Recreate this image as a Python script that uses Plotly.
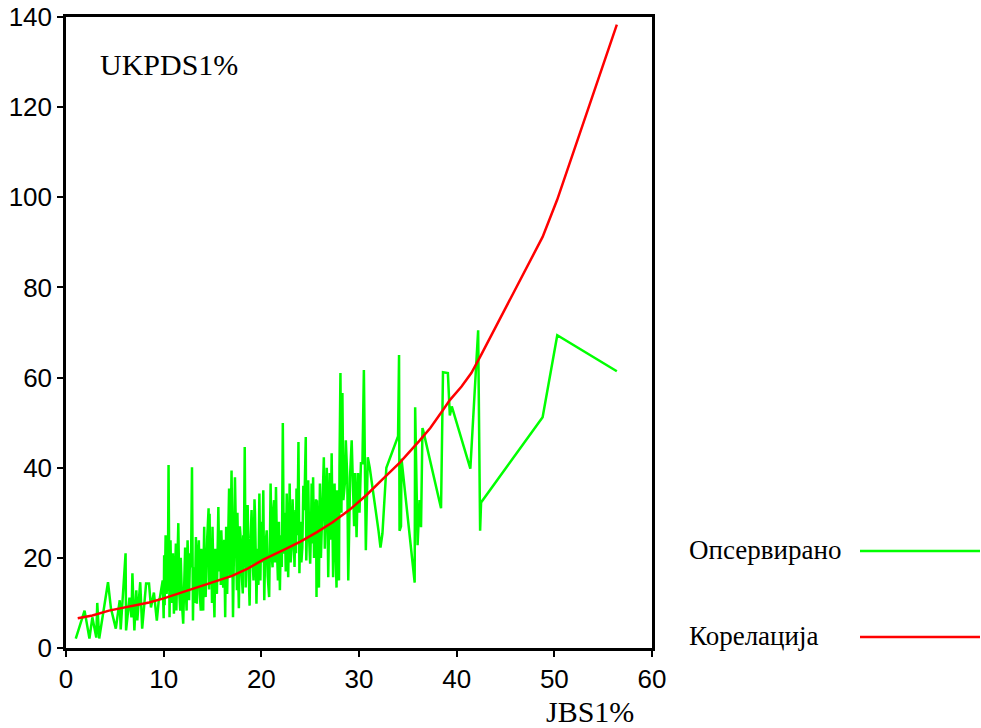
import plotly.graph_objects as go

obs_x = [1.0, 1.9, 2.4, 2.7, 3.1, 3.2, 3.4, 3.75, 4.3, 4.6, 5.1, 5.5, 5.6, 6.1, 6.15, 6.5, 6.7, 6.8, 7.0, 7.2,
         7.3, 7.6, 7.8, 8.2, 8.5, 8.7, 9.0, 9.3, 9.5, 9.6, 9.9,
         10.0, 10.05, 10.1, 10.2, 10.3, 10.4, 10.45, 10.5, 10.6, 10.65, 10.7, 10.8, 10.9, 10.95, 11.05, 11.15, 11.25, 11.3, 11.4, 11.5,
         11.6, 11.7, 11.75, 11.8, 11.9, 12.0, 12.1, 12.2, 12.3, 12.35, 12.4, 12.45, 12.55, 12.6, 12.7, 12.8, 12.9, 13.0, 13.05, 13.1,
         13.2, 13.3, 13.35, 13.4, 13.5, 13.6, 13.7, 13.8, 13.85, 13.9, 14.0, 14.05, 14.1, 14.15, 14.2, 14.3, 14.45, 14.6, 14.65, 14.7,
         14.8, 14.9, 14.95, 15.0, 15.1, 15.2, 15.3, 15.35, 15.45, 15.6, 15.7, 15.8, 15.85, 15.9, 16.0, 16.1, 16.2, 16.3, 16.35, 16.4,
         16.5, 16.55, 16.6, 16.7, 16.8, 16.95, 17.1, 17.3,
         17.5, 17.55, 17.6, 17.65, 17.7, 17.8, 17.9, 18.0, 18.1, 18.15, 18.2, 18.3, 18.4, 18.5, 18.6, 18.7, 18.8, 18.9, 19.0, 19.1,
         19.2, 19.3, 19.35, 19.45, 19.5, 19.6, 19.7, 19.8, 19.9, 20.0, 20.1, 20.2, 20.3, 20.4, 20.55, 20.65, 20.8, 20.9, 20.95, 21.05,
         21.15, 21.2, 21.3, 21.4, 21.5, 21.6, 21.7, 21.8, 21.9, 22.0, 22.1, 22.2, 22.3, 22.4, 22.5, 22.6, 22.7, 22.75, 22.85, 22.9,
         23.0, 23.1, 23.2, 23.3, 23.4, 23.5, 23.55, 23.6, 23.7, 23.8, 23.9, 24.0, 24.1, 24.2, 24.3, 24.4, 24.55,
         24.6, 24.7, 24.8, 24.9, 25.0, 25.1, 25.15, 25.25, 25.3, 25.4, 25.5, 25.6, 25.65, 25.7, 25.8, 25.9, 25.95, 26.0, 26.1, 26.2,
         26.3, 26.4, 26.5, 26.6, 26.7, 26.75, 26.85, 26.95, 27.0, 27.1, 27.2, 27.35, 27.45, 27.5, 27.6, 27.7, 27.75, 27.85, 27.95, 28.0,
         28.1, 28.2, 28.3, 28.4, 28.55, 28.65, 28.8, 28.9, 29.0, 29.1, 29.25, 29.4, 29.5, 29.6, 29.75, 29.9, 30.05, 30.2, 30.35, 30.5,
         30.7, 30.9,
         31.1, 32.0, 32.2, 32.4, 32.8, 34.0, 34.1, 34.15, 34.3, 34.35, 35.7, 35.75, 36.0, 36.2, 36.35, 36.5, 36.6, 38.4,
         38.6, 39.1, 39.3, 39.5, 41.4, 42.2, 42.4, 42.5, 48.8, 50.3, 56.4]
obs_y = [2.1, 8.3, 2.1, 6.8, 2.3, 10.0, 2.1, 6.6, 14.6, 8.8, 4.3, 10.6, 4.1, 21.0, 3.9, 11.2, 6.8, 16.6, 3.9, 12.8,
         6.1, 14.6, 4.3, 14.3, 14.3, 9.0, 12.3, 6.1, 10.6, 11.0, 15.0,
         6.6, 20.6, 9.5, 25.0, 12.0, 15.0, 22.0, 40.6, 6.8, 18.0, 23.9, 10.0, 15.0, 21.0, 7.6, 16.0, 23.2, 8.3, 19.0, 27.7,
         12.0, 8.3, 20.0, 15.4, 9.0, 5.4, 17.0, 22.3, 11.0, 8.3, 19.0, 23.9, 14.0, 10.6, 21.0, 17.9, 40.1, 6.1, 14.0, 17.9,
         10.0, 24.6, 15.0, 9.8, 20.0, 23.9, 12.0, 8.3, 22.0, 18.7, 12.0, 8.3, 20.0, 26.9, 15.0, 11.3, 24.0, 31.0, 13.0, 29.8,
         14.0, 19.4, 10.0, 26.9, 15.0, 6.8, 22.0, 18.7, 12.0, 31.3, 17.0, 24.6, 14.0, 26.1, 20.0, 13.4, 24.0, 6.8, 18.0, 26.9,
         12.0, 16.6, 28.0, 35.4, 15.7, 39.4, 6.8, 37.9,
         12.8, 30.0, 23.9, 14.0, 8.8, 27.0, 23.9, 16.0, 12.1, 25.0, 18.0, 44.6, 13.4, 26.0, 31.7, 17.0, 9.4, 24.0, 30.6, 20.0,
         15.0, 33.0, 29.8, 18.0, 9.8, 22.0, 14.0, 34.3, 15.0, 28.0, 19.0, 35.0, 10.6, 22.0, 26.1, 16.0, 11.3, 27.0, 36.5, 21.0,
         17.9, 30.0, 32.8, 19.0, 35.7, 22.0, 15.0, 28.0, 12.8, 25.0, 18.0, 49.9, 20.9, 30.0, 17.0, 34.3, 24.0, 15.7, 28.0, 36.5,
         19.0, 22.3, 33.0, 25.4, 18.0, 30.6, 21.0, 35.4, 25.0, 45.7, 16.6, 28.0, 19.0, 22.3, 36.0, 30.6, 46.8,
         19.4, 30.0, 37.2, 24.0, 18.7, 28.0, 36.5, 23.2, 37.9, 20.0, 26.1, 33.0, 11.3, 32.8, 22.0, 13.4, 28.0, 36.5, 20.0, 26.1,
         34.3, 42.3, 22.0, 29.0, 40.0, 35.0, 15.7, 30.0, 38.8, 24.0, 43.2, 15.7, 28.0, 36.5, 22.0, 13.4, 35.0, 24.0, 15.0, 40.0,
         61.0, 30.0, 56.6, 32.8, 36.5, 46.1, 37.9, 15.0, 30.0, 38.8, 46.1, 35.7, 27.0, 38.8, 24.6, 38.8, 30.0, 41.0, 41.0, 61.7,
         21.7, 42.3,
         40.0, 26.0, 22.3, 25.4, 40.0, 47.0, 65.0, 26.0, 27.0, 42.0, 14.5, 53.4, 22.8, 32.8, 26.8, 48.8, 48.0, 31.0,
         61.2, 61.0, 51.6, 53.6, 39.8, 70.5, 26.0, 32.3, 51.2, 69.4, 61.4]

# Correlation (red) curve
cor_x = [1.2, 2.7, 4.4, 6.8, 8.5, 10.0, 13.0, 15.0, 17.0, 18.6, 20.2, 22.4, 24.0, 25.7, 27.3,
         29.0, 30.8, 32.4, 34.2, 36.2, 37.3, 38.6, 39.3, 40.5, 41.5, 42.4, 48.8, 50.3, 56.4]
cor_y = [6.6, 7.2, 8.3, 9.4, 10.1, 11.0, 13.2, 14.6, 16.0, 17.6, 19.6, 21.9, 23.6, 25.7, 27.9,
         30.6, 34.0, 37.4, 41.2, 46.0, 48.8, 52.8, 55.0, 58.0, 61.0, 64.6, 91.2, 99.5, 138.3]

assert len(obs_x) == len(obs_y)
assert len(cor_x) == len(cor_y)

x_ticks = [0, 10, 20, 30, 40, 50, 60]
y_ticks = [0, 20, 40, 60, 80, 100, 120, 140]

title_text = "UKPDS1%"
x_title = "JBS1%"
legend_names = ["Опсервирано", "Корелација"]
colors = ["#00FF00", "#FF0000"]

fig = go.Figure()
fig.add_trace(go.Scatter(x=obs_x, y=obs_y, mode="lines", name=legend_names[0],
                         line=dict(color=colors[0], width=2.5), showlegend=False))
fig.add_trace(go.Scatter(x=cor_x, y=cor_y, mode="lines", name=legend_names[1],
                         line=dict(color=colors[1], width=2.5), showlegend=False))

W, H = 981, 728
L, R, T, B = 66, 329, 17, 80
pw = W - L - R
ph = H - T - B

def px_to_paper(xp, yp):
    return (xp - L) / pw, (H - B - yp) / ph

axis_common = dict(showline=True, linecolor="black", linewidth=2.5, mirror=True,
                   ticks="outside", ticklen=6, tickwidth=2, tickcolor="black",
                   showgrid=False, zeroline=False,
                   tickfont=dict(family="Liberation Sans, Arial", size=26, color="black"))

fig.update_xaxes(range=[0, 60], tickvals=x_ticks, ticktext=[str(v) for v in x_ticks], **axis_common)
fig.update_yaxes(range=[0, 140], tickvals=y_ticks, ticktext=[str(v) for v in y_ticks], **axis_common)

annots = []
ax, ay = px_to_paper(98, 65)
annots.append(dict(text=title_text, x=ax, y=ay, xref="paper", yref="paper", xanchor="left", yanchor="middle",
                   showarrow=False, font=dict(family="Liberation Serif, Times New Roman", size=30, color="black")))
ax, ay = px_to_paper(636, 711)
annots.append(dict(text=x_title, x=ax, y=ay, xref="paper", yref="paper", xanchor="right", yanchor="middle",
                   showarrow=False, font=dict(family="Liberation Serif, Times New Roman", size=30, color="black")))

shapes = []
for i, (name, ypx) in enumerate(zip(legend_names, [551, 637])):
    ax, ay = px_to_paper(687, ypx - 1)
    annots.append(dict(text=name, x=ax, y=ay, xref="paper", yref="paper", xanchor="left", yanchor="middle",
                       showarrow=False, font=dict(family="Liberation Serif, Times New Roman", size=27, color="black")))
    x0, y0 = px_to_paper(860, ypx)
    x1, _ = px_to_paper(980, ypx)
    shapes.append(dict(type="line", xref="paper", yref="paper", x0=x0, x1=x1, y0=y0, y1=y0,
                       line=dict(color=colors[i], width=2.5)))

fig.update_layout(width=W, height=H, margin=dict(l=L, r=R, t=T, b=B, autoexpand=False),
                  plot_bgcolor="white", paper_bgcolor="white",
                  annotations=annots, shapes=shapes, showlegend=False)

fig.write_html("out.html", config={"displayModeBar": False})
